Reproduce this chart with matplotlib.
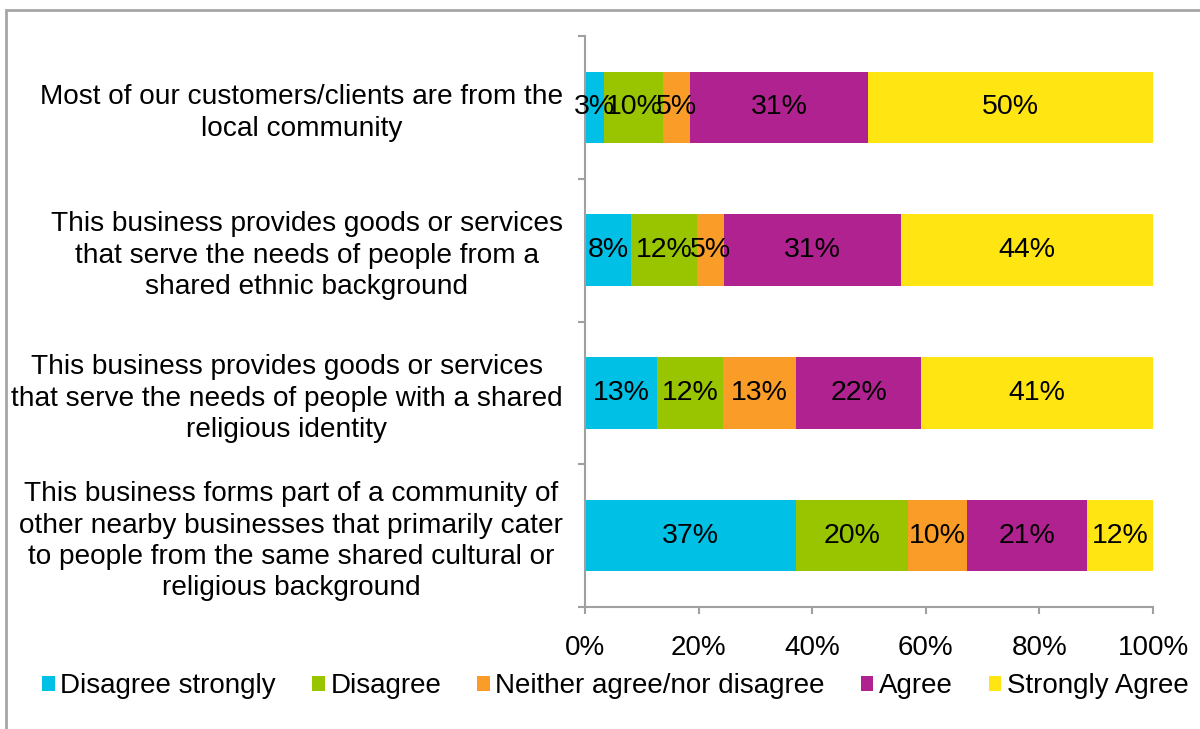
import matplotlib.pyplot as plt
from matplotlib.patches import Patch, Rectangle

plt.rcParams['font.family'] = ['Liberation Sans', 'DejaVu Sans']

statements = [
    'Most of our customers/clients are from the\nlocal community',
    'This business provides goods or services\nthat serve the needs of people from a\nshared ethnic background',
    'This business provides goods or services\nthat serve the needs of people with a shared\nreligious identity',
    'This business forms part of a community of\nother nearby businesses that primarily cater\nto people from the same shared cultural or\nreligious background',
]
responses = ['Disagree strongly', 'Disagree', 'Neither agree/nor disagree', 'Agree', 'Strongly Agree']
colors = ['#00C0E6', '#99C400', '#F99D28', '#B0228F', '#FFE512']

# percent of respondents per statement, one list per response
disagree_strongly = [3.4, 8.1, 12.7, 37.1]
disagree = [10.4, 11.6, 11.6, 19.8]
neither = [4.7, 4.7, 12.9, 10.4]
agree = [31.4, 31.3, 22.0, 21.0]
strongly_agree = [50.1, 44.3, 40.8, 11.7]
series = [disagree_strongly, disagree, neither, agree, strongly_agree]

fig = plt.figure(figsize=(12, 7.29), dpi=100)
ax = fig.add_axes([585 / 1200, 1 - 607 / 729, (1153 - 585) / 1200, (607 - 36) / 729])

ypos = range(len(statements))
left = [0] * len(statements)
for vals, col, name in zip(series, colors, responses):
    bars = ax.barh(ypos, vals, left=left, height=0.5, color=col, label=name)
    for b, v in zip(bars, vals):
        ax.text(b.get_x() + b.get_width() / 2, b.get_y() + b.get_height() / 2,
                '%.0f%%' % v, ha='center', va='center', fontsize=20.5)
    left = [l + v for l, v in zip(left, vals)]

ax.set_xlim(0, 100)
ax.set_ylim(3.5, -0.5)
ax.set_xticks(range(0, 101, 20))
ax.set_xticklabels(['%d%%' % t for t in range(0, 101, 20)], fontsize=20)
ax.set_yticks([-0.5, 0.5, 1.5, 2.5, 3.5])
ax.set_yticklabels([])
ax.set_yticks(list(ypos), minor=True)
ax.set_yticklabels(statements, minor=True, fontsize=20.2, multialignment='center', linespacing=1.27)

grey = '#A0A0A0'
for s in ['top', 'right']:
    ax.spines[s].set_visible(False)
for s in ['left', 'bottom']:
    ax.spines[s].set_color(grey)
    ax.spines[s].set_linewidth(1.5)
ax.tick_params(axis='x', which='major', length=5, width=1.5, color=grey, pad=15)
ax.tick_params(axis='y', which='major', length=5, width=1.5, color=grey)
ax.tick_params(axis='y', which='minor', length=0, pad=16)

handles = [Patch(facecolor=c, label=r) for c, r in zip(colors, responses)]
fig.legend(handles=handles, loc='center', bbox_to_anchor=(0.513, 1 - 686 / 729), ncol=5,
           frameon=False, fontsize=20, handlelength=0.45, handleheight=0.45,
           handletextpad=0.2, columnspacing=1.3, borderaxespad=0)

# outer frame (left and top edges)
fig.patches.append(Rectangle((6 / 1200, -0.1), 1.2, 1 - 10 / 729 + 0.1, transform=fig.transFigure,
                             fill=False, edgecolor='#A6A6A6', linewidth=2))

fig.savefig('out.png', dpi=100)
